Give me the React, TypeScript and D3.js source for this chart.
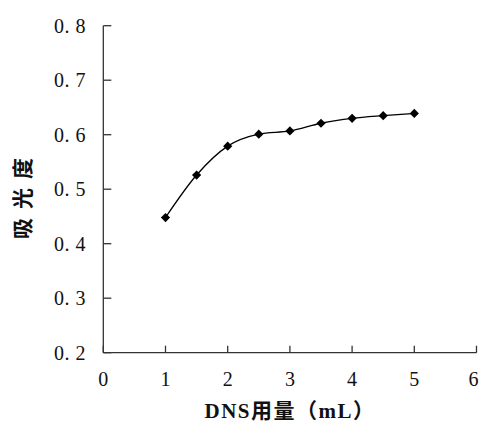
import React from "react";
import * as d3 from "d3";

const xValues = [1, 1.5, 2, 2.5, 3, 3.5, 4, 4.5, 5];
const yValues = [0.448, 0.526, 0.579, 0.601, 0.607, 0.621, 0.63, 0.635, 0.639];
const xTicks = [0, 1, 2, 3, 4, 5, 6];
const yTicks = [0.2, 0.3, 0.4, 0.5, 0.6, 0.7, 0.8];
const xTitle = "DNS用量（mL）";
const yTitle = "吸光度";

export default function App() {
  const W = 481, H = 422;
  const x = d3.scaleLinear().domain([0, 6]).range([103.3, 476.5]);
  const y = d3.scaleLinear().domain([0.2, 0.8]).range([352.7, 25.7]);
  const pts = xValues.map((v, i) => [x(v), y(yValues[i])] as [number, number]);
  const line = d3.line().curve(d3.curveMonotoneX)(pts) || "";
  const axisColor = "#333";
  const numFont = "'Liberation Serif', 'DejaVu Serif', serif";
  const r = 4.6;
  return (
    <svg width={W} height={H} style={{ position: "absolute", left: 0, top: 0, background: "#fff" }}>
      {/* y axis */}
      <line x1={x(0)} x2={x(0)} y1={y(0.8)} y2={y(0.2)} stroke={axisColor} strokeWidth={1.3} />
      {yTicks.map((t) => (
        <g key={"y" + t}>
          <line x1={x(0)} x2={x(0) + 8} y1={y(t)} y2={y(t)} stroke={axisColor} strokeWidth={1.3} />
          <text
            x={86}
            y={y(t) + 7}
            textAnchor="end"
            fontFamily={numFont}
            fontSize={20}
            fill="#111"
            style={{ whiteSpace: "pre", letterSpacing: "0.5px" }}
          >
            {t.toFixed(1).replace(".", ". ")}
          </text>
        </g>
      ))}
      {/* x axis */}
      <line x1={x(0)} x2={x(6)} y1={y(0.2)} y2={y(0.2)} stroke={axisColor} strokeWidth={1.3} />
      {xTicks.map((t) => (
        <g key={"x" + t}>
          <line x1={x(t)} x2={x(t)} y1={y(0.2)} y2={y(0.2) - 7} stroke={axisColor} strokeWidth={1.3} />
          <text
            x={x(t) - (t === 6 ? 3 : 0)}
            y={385.5}
            textAnchor="middle"
            fontFamily={numFont}
            fontSize={20}
            fill="#111"
          >
            {t}
          </text>
        </g>
      ))}
      {/* series */}
      <path d={line} fill="none" stroke="#000" strokeWidth={1.3} />
      {pts.map(([px, py], i) => (
        <path
          key={"m" + i}
          d={`M${px},${py - r}L${px + r},${py}L${px},${py + r}L${px - r},${py}Z`}
          fill="#000"
        />
      ))}
      {/* titles */}
      <text
        x={290}
        y={418}
        textAnchor="middle"
        fontFamily={"'Liberation Serif', 'Noto Sans CJK SC', serif"}
        fontWeight="bold"
        fontSize={21}
        fill="#111"
        style={{ letterSpacing: "1.5px" }}
      >
        {xTitle}
      </text>
      <text
        transform={`translate(30,194) rotate(-90)`}
        textAnchor="middle"
        fontFamily={"'Noto Sans CJK SC', sans-serif"}
        fontWeight="bold"
        fontSize={21}
        fill="#111"
        style={{ letterSpacing: "9px" }}
      >
        {yTitle}
      </text>
    </svg>
  );
}
